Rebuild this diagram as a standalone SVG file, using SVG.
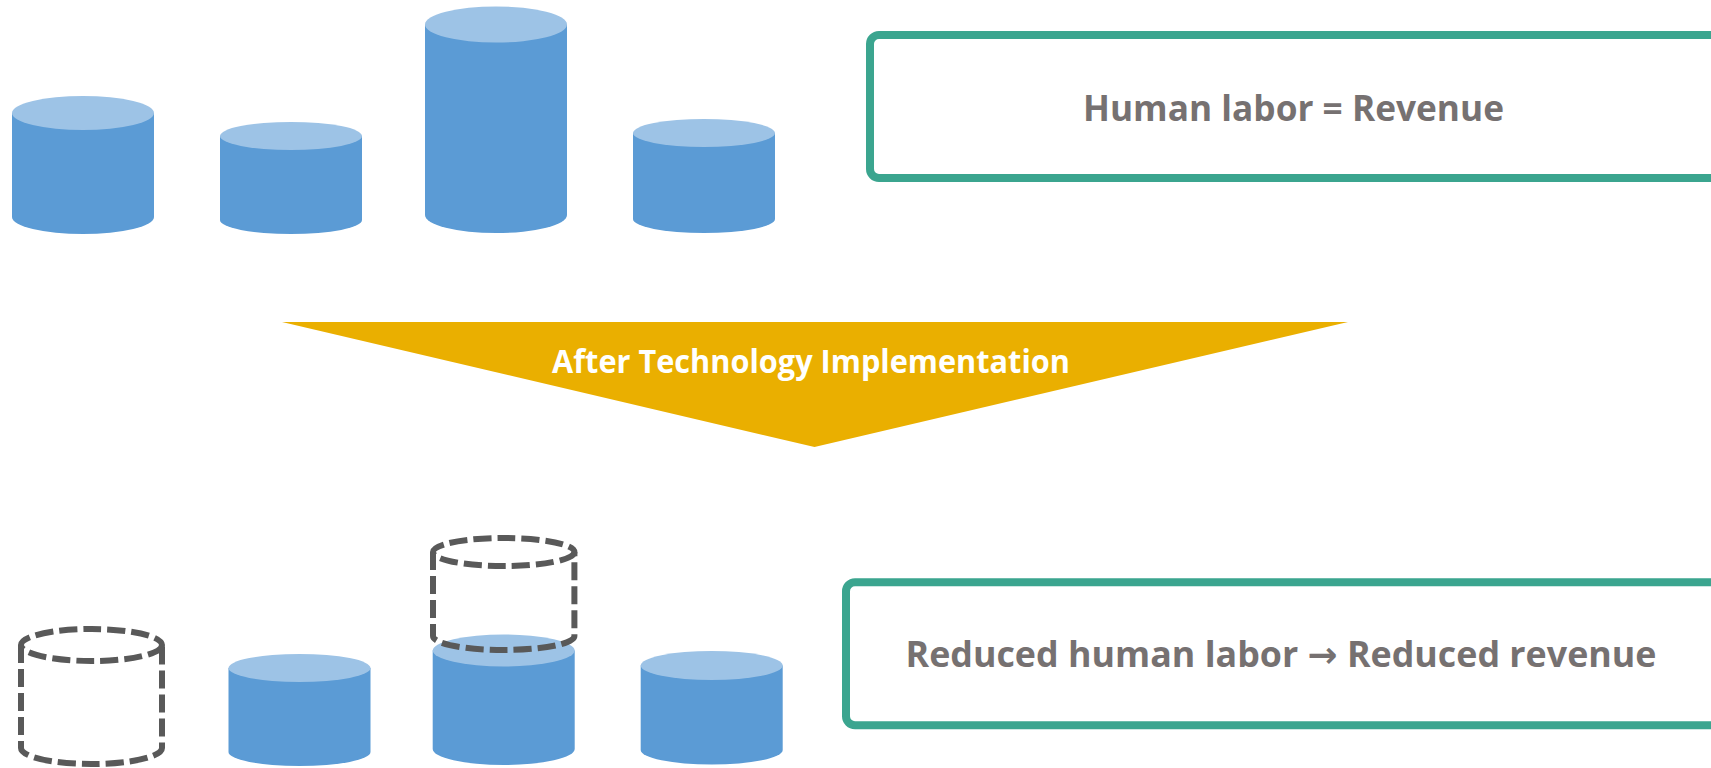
<svg xmlns="http://www.w3.org/2000/svg" width="1711" height="768" viewBox="0 0 1711 768">
  <style>
    .body { fill: #5B9BD5; }
    .cap { fill: #9DC3E6; }
    .ghost { fill: none; stroke: #595959; stroke-width: 6; stroke-dasharray: 18 6; stroke-linejoin: round; }
    .panel { fill: #FFFFFF; stroke: #3BA58F; stroke-width: 8; }
    .label { font-family: "Open Sans", "Liberation Sans", "DejaVu Sans", sans-serif; font-weight: 700; font-size: 36px; fill: #767171; text-anchor: middle; }
    .arrow-glyph { font-family: "DejaVu Sans", sans-serif; font-weight: 700; }
    .banner-text { font-family: "Open Sans", "Liberation Sans", sans-serif; font-weight: 700; font-size: 33px; fill: #FFFFFF; text-anchor: middle; }
  </style>

  <rect width="1711" height="768" fill="#FFFFFF"/>

  <!-- Before: four staffing cylinders -->
  <g id="cyl-before-1">
    <path class="body" d="M12,113 V217 A71,17 0 0 0 154,217 V113 Z"/>
    <ellipse class="cap" cx="83" cy="113" rx="71" ry="17"/>
  </g>
  <g id="cyl-before-2">
    <path class="body" d="M220,136 V220 A71,14 0 0 0 362,220 V136 Z"/>
    <ellipse class="cap" cx="291" cy="136" rx="71" ry="14"/>
  </g>
  <g id="cyl-before-3">
    <path class="body" d="M425,24.5 V215 A71,18 0 0 0 567,215 V24.5 Z"/>
    <ellipse class="cap" cx="496" cy="24.5" rx="71" ry="18"/>
  </g>
  <g id="cyl-before-4">
    <path class="body" d="M633,133 V219 A71,14 0 0 0 775,219 V133 Z"/>
    <ellipse class="cap" cx="704" cy="133" rx="71" ry="14"/>
  </g>

  <g id="panel-before">
    <rect class="panel" x="870" y="35" width="900" height="143" rx="9"/>
    <text class="label" x="1293.5" y="121" textLength="421" lengthAdjust="spacingAndGlyphs">Human labor = Revenue</text>
  </g>

  <!-- Transition banner -->
  <g id="transition">
    <polygon points="282,322 1348,322 814.5,447" fill="#EAAF00"/>
    <text class="banner-text" x="811" y="373" textLength="518" lengthAdjust="spacingAndGlyphs">After Technology Implementation</text>
  </g>

  <!-- After: removed and reduced cylinders -->
  <g id="cyl-after-1-removed">
    <path class="ghost" d="M21,645 V748 A70.5,16 0 0 0 162,748 V645"/>
    <ellipse class="ghost" cx="91.5" cy="645" rx="70.5" ry="16"/>
  </g>
  <g id="cyl-after-2">
    <path class="body" d="M228.5,668 V752 A71,14 0 0 0 370.5,752 V668 Z"/>
    <ellipse class="cap" cx="299.5" cy="668" rx="71" ry="14"/>
  </g>
  <g id="cyl-after-3">
    <path class="body" d="M432.7,650.5 V749 A71,16 0 0 0 574.7,749 V650.5 Z"/>
    <ellipse class="cap" cx="503.7" cy="650.5" rx="71" ry="16"/>
  </g>
  <g id="cyl-after-3-removed">
    <path class="ghost" d="M433,552 V636 A70.7,14 0 0 0 574.4,636 V552"/>
    <ellipse class="ghost" cx="503.7" cy="552" rx="70.7" ry="14"/>
  </g>
  <g id="cyl-after-4">
    <path class="body" d="M640.7,665.5 V750 A71,14.5 0 0 0 782.7,750 V665.5 Z"/>
    <ellipse class="cap" cx="711.7" cy="665.5" rx="71" ry="14.5"/>
  </g>

  <g id="panel-after">
    <rect class="panel" x="846" y="582.3" width="900" height="143" rx="9"/>
    <text class="label" x="1281" y="667" textLength="751" lengthAdjust="spacingAndGlyphs">Reduced human labor <tspan class="arrow-glyph">→</tspan> Reduced revenue</text>
  </g>

  <g id="connectors"/>
</svg>
